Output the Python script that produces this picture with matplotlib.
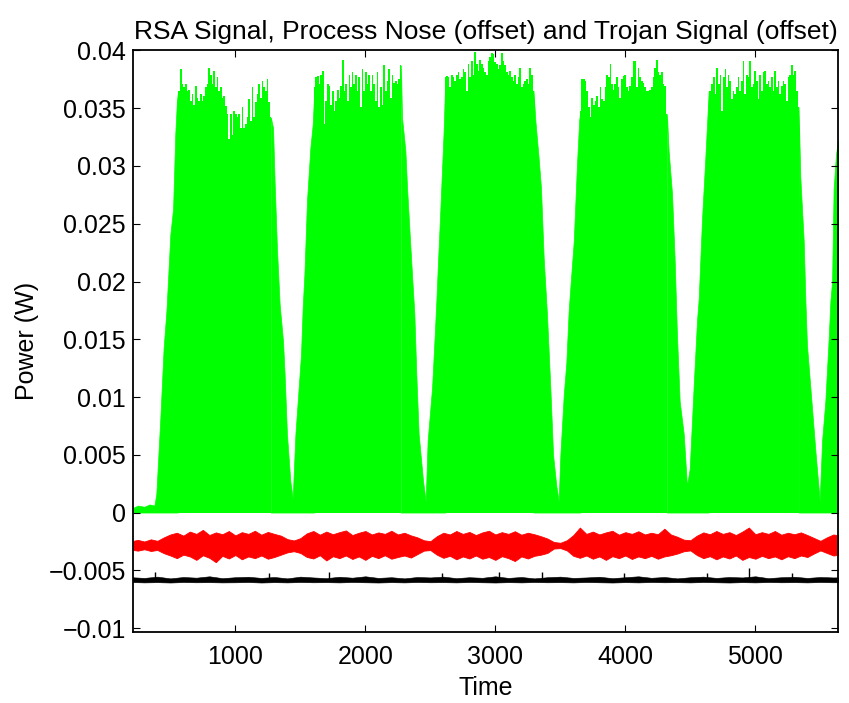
import numpy as np
import matplotlib
matplotlib.use("Agg")
import matplotlib.pyplot as plt
from matplotlib.ticker import FuncFormatter

plt.rcParams['font.family'] = ['Liberation Sans', 'DejaVu Sans']

# ---- RSA signal (green): envelope of the dense trace ----
spike_step = 12.8
plateau_start = [556, 1608, 2615, 3654, 4641]

plateau1 = [0.0362, 0.0365, 0.0384, 0.0371, 0.0368, 0.0371, 0.0365, 0.0366, 0.0356, 0.0362,
            0.0353, 0.0369, 0.0359, 0.0356, 0.0362, 0.0356, 0.0361, 0.0368, 0.0371, 0.0385,
            0.0379, 0.0371, 0.0382, 0.0368, 0.0377, 0.0365, 0.0368, 0.0359, 0.0361, 0.0352,
            0.0345, 0.0323, 0.0345, 0.0327, 0.0348, 0.0345, 0.0342, 0.0345, 0.0333, 0.0351,
            0.0333, 0.0336, 0.0342, 0.0358, 0.0339, 0.0368, 0.0342, 0.0355, 0.0362, 0.0371,
            0.0359, 0.0374, 0.0368, 0.0365, 0.0375, 0.0355, 0.0342]
plateau2 = [0.0368, 0.0377, 0.0378, 0.0371, 0.0379, 0.0382, 0.0336, 0.0356, 0.0371, 0.0369,
            0.0353, 0.0365, 0.0348, 0.0356, 0.0366, 0.0359, 0.0369, 0.0392, 0.0365, 0.0371,
            0.0356, 0.0379, 0.0368, 0.0381, 0.0371, 0.0379, 0.0365, 0.0377, 0.0351, 0.0384,
            0.0365, 0.0381, 0.0371, 0.0379, 0.0365, 0.0379, 0.0371, 0.0356, 0.0381, 0.0351,
            0.0368, 0.0353, 0.0387, 0.0365, 0.0374, 0.0384, 0.0359, 0.0379, 0.0372, 0.0374,
            0.0371, 0.0375, 0.0387]
plateau3 = [0.0377, 0.0378, 0.0377, 0.0368, 0.0379, 0.0377, 0.0374, 0.0379, 0.0381, 0.0375,
            0.0377, 0.0384, 0.0381, 0.0365, 0.0388, 0.0377, 0.0391, 0.0379, 0.0399, 0.0388,
            0.0382, 0.0392, 0.0388, 0.0385, 0.0381, 0.0379, 0.0391, 0.0394, 0.0398, 0.0397,
            0.0390, 0.0388, 0.0384, 0.0387, 0.0398, 0.0391, 0.0387, 0.0381, 0.0379, 0.0382,
            0.0377, 0.0374, 0.0379, 0.0371, 0.0377, 0.0385, 0.0368, 0.0371, 0.0374, 0.0375,
            0.0371, 0.0385, 0.0379, 0.0365]
plateau4 = [0.0348, 0.0375, 0.0375, 0.0374, 0.0365, 0.0351, 0.0342, 0.0359, 0.0353, 0.0356,
            0.0361, 0.0351, 0.0368, 0.0358, 0.0356, 0.0368, 0.0379, 0.0377, 0.0388, 0.0371,
            0.0366, 0.0371, 0.0377, 0.0368, 0.0359, 0.0375, 0.0378, 0.0379, 0.0368, 0.0365,
            0.0369, 0.0377, 0.0391, 0.0391, 0.0368, 0.0385, 0.0377, 0.0374, 0.0372, 0.0368,
            0.0365, 0.0365, 0.0366, 0.0368, 0.0377, 0.0385, 0.0392, 0.0381, 0.0379, 0.0381,
            0.0371, 0.0369, 0.0345]
plateau5 = [0.0365, 0.0365, 0.0371, 0.0377, 0.0362, 0.0385, 0.0371, 0.0379, 0.0348, 0.0377,
            0.0384, 0.0368, 0.0379, 0.0374, 0.0358, 0.0365, 0.0362, 0.0368, 0.0377, 0.0365,
            0.0374, 0.0391, 0.0362, 0.0379, 0.0377, 0.0391, 0.0368, 0.0371, 0.0382, 0.0374,
            0.0358, 0.0379, 0.0365, 0.0381, 0.0382, 0.0371, 0.0374, 0.0368, 0.0377, 0.0365,
            0.0382, 0.0368, 0.0374, 0.0362, 0.0369, 0.0374, 0.0371, 0.0356, 0.0377, 0.0379,
            0.0387, 0.0379, 0.0382, 0.0365, 0.0351]
plateaus = [plateau1, plateau2, plateau3, plateau4, plateau5]

# rising / falling edges around each burst (time, power)
ramp0_t = [213, 250, 300, 340, 377, 392, 423, 448, 470, 500, 521, 538, 550]
ramp0_p = [0.0004, 0.0006, 0.0005, 0.0007, 0.0006, 0.0016, 0.0082, 0.0142, 0.0175,
           0.0241, 0.0263, 0.0328, 0.0355]
ramp1_t = [1290, 1302, 1320, 1341, 1367, 1379, 1397, 1423, 1441, 1462, 1487, 1505, 1518,
           1531, 1551, 1577, 1595]
ramp1_p = [0.0333, 0.0287, 0.0229, 0.0180, 0.0148, 0.0120, 0.0068, 0.0027, 0.0012, 0.0068,
           0.0108, 0.0137, 0.0178, 0.0206, 0.0270, 0.0316, 0.0336]
ramp2_t = [2282, 2308, 2321, 2341, 2359, 2377, 2392, 2410, 2444, 2464, 2479, 2513, 2531,
           2546, 2560, 2577, 2602]
ramp2_p = [0.0342, 0.0313, 0.0281, 0.0241, 0.0206, 0.0172, 0.0120, 0.0068, 0.0027, 0.0010,
           0.0062, 0.0108, 0.0148, 0.0183, 0.0220, 0.0263, 0.0330]
ramp3_t = [3308, 3333, 3351, 3372, 3397, 3410, 3423, 3444, 3469, 3487, 3500, 3526, 3546,
           3564, 3580, 3603, 3628, 3645]
ramp3_p = [0.0339, 0.0307, 0.0281, 0.0220, 0.0172, 0.0140, 0.0108, 0.0050, 0.0023, 0.0010,
           0.0050, 0.0102, 0.0130, 0.0175, 0.0200, 0.0235, 0.0302, 0.0340]
ramp4_t = [4333, 4359, 4379, 4397, 4418, 4449, 4474, 4495, 4526, 4551, 4564, 4590, 4615, 4630]
ramp4_p = [0.0313, 0.0276, 0.0220, 0.0154, 0.0096, 0.0068, 0.0023, 0.0038, 0.0111, 0.0166,
           0.0185, 0.0255, 0.0307, 0.0340]
ramp5_t = [5346, 5372, 5385, 5397, 5436, 5462, 5495, 5513, 5538, 5564, 5577, 5590, 5602,
           5620, 5636]
ramp5_p = [0.0290, 0.0235, 0.0183, 0.0145, 0.0090, 0.0053, 0.0010, 0.0062, 0.0096, 0.0151,
           0.0183, 0.0200, 0.0280, 0.0310, 0.0322]
ramps_t = [ramp0_t, ramp1_t, ramp2_t, ramp3_t, ramp4_t, ramp5_t]
ramps_p = [ramp0_p, ramp1_p, ramp2_p, ramp3_p, ramp4_p, ramp5_p]

# ---- process noise (red, offset): band envelope ----
red_t = np.arange(200, 5651, 50)
red_hi = [-0.00248, -0.00237, -0.00251, -0.00232, -0.00245, -0.00215, -0.00190, -0.00175,
          -0.00200, -0.00165, -0.00185, -0.00150, -0.00195, -0.00172, -0.00188, -0.00160,
          -0.00198, -0.00170, -0.00185, -0.00158, -0.00192, -0.00168, -0.00185, -0.00200,
          -0.00230, -0.00242, -0.00222, -0.00180, -0.00160, -0.00192, -0.00165, -0.00188,
          -0.00170, -0.00155, -0.00195, -0.00175, -0.00160, -0.00190, -0.00172, -0.00185,
          -0.00158, -0.00190, -0.00175, -0.00198, -0.00215, -0.00240, -0.00248, -0.00205,
          -0.00175, -0.00190, -0.00160, -0.00185, -0.00168, -0.00195, -0.00172, -0.00158,
          -0.00190, -0.00170, -0.00185, -0.00162, -0.00192, -0.00175, -0.00188, -0.00205,
          -0.00225, -0.00255, -0.00262, -0.00240, -0.00195, -0.00130, -0.00185, -0.00165,
          -0.00190, -0.00172, -0.00158, -0.00192, -0.00170, -0.00185, -0.00162, -0.00190,
          -0.00175, -0.00188, -0.00140, -0.00190, -0.00210, -0.00235, -0.00240, -0.00200,
          -0.00172, -0.00188, -0.00160, -0.00185, -0.00170, -0.00195, -0.00165, -0.00130,
          -0.00188, -0.00170, -0.00185, -0.00160, -0.00192, -0.00175, -0.00188, -0.00172,
          -0.00195, -0.00220, -0.00245, -0.00215, -0.00190, -0.00200]
red_lo = [-0.00322, -0.00330, -0.00318, -0.00333, -0.00324, -0.00352, -0.00372, -0.00395,
          -0.00365, -0.00380, -0.00410, -0.00370, -0.00392, -0.00430, -0.00375, -0.00398,
          -0.00368, -0.00405, -0.00380, -0.00395, -0.00372, -0.00400, -0.00385, -0.00365,
          -0.00345, -0.00335, -0.00350, -0.00385, -0.00398, -0.00370, -0.00415, -0.00378,
          -0.00395, -0.00372, -0.00402, -0.00380, -0.00410, -0.00375, -0.00395, -0.00370,
          -0.00400, -0.00385, -0.00372, -0.00390, -0.00360, -0.00330, -0.00325, -0.00365,
          -0.00392, -0.00375, -0.00405, -0.00380, -0.00398, -0.00372, -0.00400, -0.00385,
          -0.00410, -0.00378, -0.00395, -0.00420, -0.00380, -0.00398, -0.00375, -0.00365,
          -0.00350, -0.00312, -0.00308, -0.00328, -0.00375, -0.00392, -0.00372, -0.00400,
          -0.00380, -0.00410, -0.00378, -0.00395, -0.00372, -0.00402, -0.00380, -0.00395,
          -0.00375, -0.00400, -0.00380, -0.00370, -0.00355, -0.00335, -0.00328, -0.00368,
          -0.00395, -0.00378, -0.00405, -0.00380, -0.00398, -0.00372, -0.00410, -0.00385,
          -0.00400, -0.00375, -0.00395, -0.00380, -0.00405, -0.00378, -0.00395, -0.00372,
          -0.00385, -0.00355, -0.00328, -0.00350, -0.00372, -0.00365]

# ---- trojan signal (black, offset) ----
black_t = np.arange(200, 5701, 100)
black_hi = [-0.00560, -0.00566, -0.00555, -0.00570, -0.00558, -0.00564, -0.00552, -0.00568,
            -0.00560, -0.00556, -0.00566, -0.00558, -0.00570, -0.00555, -0.00562, -0.00568,
            -0.00556, -0.00564, -0.00552, -0.00566, -0.00560, -0.00570, -0.00558, -0.00562,
            -0.00555, -0.00568, -0.00560, -0.00565, -0.00552, -0.00566, -0.00558, -0.00570,
            -0.00560, -0.00555, -0.00566, -0.00562, -0.00556, -0.00568, -0.00560, -0.00552,
            -0.00565, -0.00558, -0.00570, -0.00560, -0.00555, -0.00566, -0.00558, -0.00562,
            -0.00552, -0.00568, -0.00560, -0.00556, -0.00566, -0.00558, -0.00562, -0.00560]
black_lo = [-0.00602, -0.00605, -0.00603, -0.00606, -0.00602, -0.00604, -0.00603, -0.00605,
            -0.00604, -0.00602, -0.00606, -0.00603, -0.00605, -0.00602, -0.00604, -0.00603,
            -0.00605, -0.00602, -0.00604, -0.00606, -0.00603, -0.00605, -0.00602, -0.00604,
            -0.00603, -0.00605, -0.00602, -0.00604, -0.00606, -0.00603, -0.00605, -0.00602,
            -0.00604, -0.00603, -0.00605, -0.00602, -0.00604, -0.00606, -0.00603, -0.00605,
            -0.00602, -0.00604, -0.00603, -0.00605, -0.00602, -0.00604, -0.00606, -0.00603,
            -0.00605, -0.00602, -0.00604, -0.00603, -0.00605, -0.00602, -0.00604, -0.00603]
black_spike_t = [385, 1256, 1718, 2590, 3026, 3359, 3987, 4628, 4949, 5282]
black_spike_p = [-0.00511, -0.00526, -0.00511, -0.00526, -0.00511, -0.00518, -0.00520,
                 -0.00520, -0.00477, -0.00520]

x_ticks = [1000, 2000, 3000, 4000, 5000]
y_ticks = [-0.01, -0.005, 0, 0.005, 0.01, 0.015, 0.02, 0.025, 0.03, 0.035, 0.04]

GREEN = '#00ff00'


def plateau_times(k):
    """sample times of the k-th burst top"""
    return [plateau_start[k] + spike_step * i for i in range(len(plateaus[k]))]


def fmt_tick(v, pos):
    return ('%g' % v).replace('-', '\u2212')


fig = plt.figure(figsize=(8.49, 7.03), dpi=100)
ax = fig.add_axes([0.1567, 0.1017, 0.8304, 0.8265])

# edges: linear, joined to the neighbouring burst tops
for k in range(len(ramps_t)):
    t = list(ramps_t[k])
    p = list(ramps_p[k])
    if k > 0:
        t = [plateau_times(k - 1)[-1]] + t
        p = [plateaus[k - 1][-1]] + p
    if k < len(plateaus):
        t = t + [plateau_times(k)[0]]
        p = p + [plateaus[k][0]]
    ax.fill_between(t, 0, p, color=GREEN, linewidth=0.5, edgecolor=GREEN)
# burst tops: spiky steps
for k in range(len(plateaus)):
    ax.fill_between(plateau_times(k), 0, plateaus[k], step='mid', color=GREEN,
                    linewidth=0)

ax.fill_between(red_t, red_lo, red_hi, color='#ff0000', linewidth=0.6, edgecolor='#ff0000')
ax.fill_between(black_t, black_lo, black_hi, color='black', linewidth=0.4, edgecolor='black')
ax.vlines(black_spike_t, -0.0058, black_spike_p, color='black', linewidth=1.0)

ax.set_xlim(213, 5636)
ax.set_ylim(-0.0103, 0.04)
ax.set_xticks(x_ticks)
ax.set_yticks(y_ticks)
ax.yaxis.set_major_formatter(FuncFormatter(fmt_tick))
ax.tick_params(direction='in', length=5, width=0.8, top=True, right=True,
               labelsize=18, pad=5)
ax.tick_params(axis='x', pad=9.5)
for s in ax.spines.values():
    s.set_linewidth(1.3)

ax.set_xlabel('Time', fontsize=18, labelpad=5)
ax.set_ylabel('Power (W)', fontsize=18, labelpad=7)
ax.set_title('RSA Signal, Process Nose (offset) and Trojan Signal (offset)',
             fontsize=19, pad=8)

fig.savefig('out.png', dpi=100)
